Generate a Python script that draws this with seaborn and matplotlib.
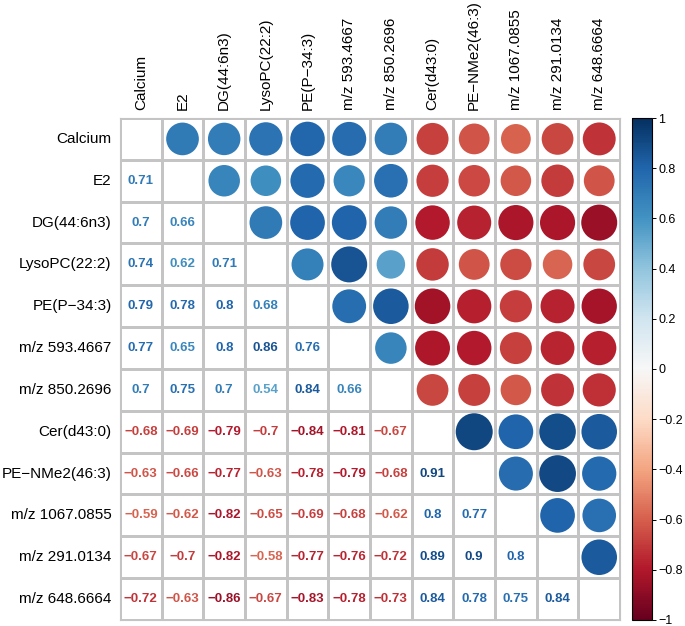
import numpy as np
import pandas as pd
import matplotlib
matplotlib.use("Agg")
import matplotlib.pyplot as plt
import seaborn as sns
from matplotlib.colors import ListedColormap, Normalize
from matplotlib.cm import ScalarMappable

# variables (row / column order)
labels = ["Calcium", "E2", "DG(44:6n3)", "LysoPC(22:2)", "PE(P\u221234:3)",
          "m/z 593.4667", "m/z 850.2696", "Cer(d43:0)", "PE\u2212NMe2(46:3)",
          "m/z 1067.0855", "m/z 291.0134", "m/z 648.6664"]

# lower triangle of the correlation matrix, row by row
row_e2 = [0.71]
row_dg = [0.7, 0.66]
row_lyso = [0.74, 0.62, 0.71]
row_pe = [0.79, 0.78, 0.8, 0.68]
row_593 = [0.77, 0.65, 0.8, 0.86, 0.76]
row_850 = [0.7, 0.75, 0.7, 0.54, 0.84, 0.66]
row_cer = [-0.68, -0.69, -0.79, -0.7, -0.84, -0.81, -0.67]
row_nme2 = [-0.63, -0.66, -0.77, -0.63, -0.78, -0.79, -0.68, 0.91]
row_1067 = [-0.59, -0.62, -0.82, -0.65, -0.69, -0.68, -0.62, 0.8, 0.77]
row_291 = [-0.67, -0.7, -0.82, -0.58, -0.77, -0.76, -0.72, 0.89, 0.9, 0.8]
row_648 = [-0.72, -0.63, -0.86, -0.67, -0.83, -0.78, -0.73, 0.84, 0.78, 0.75, 0.84]

cbar_ticks = [-1, -0.8, -0.6, -0.4, -0.2, 0, 0.2, 0.4, 0.6, 0.8, 1]

lower_rows = [[], row_e2, row_dg, row_lyso, row_pe, row_593, row_850,
              row_cer, row_nme2, row_1067, row_291, row_648]

n = len(labels)
corr = np.eye(n)
for i, vals in enumerate(lower_rows):
    for j, v in enumerate(vals):
        corr[i, j] = v
        corr[j, i] = v

cmap = plt.get_cmap("RdBu")
norm = Normalize(-1, 1)


def fmt(v):
    return f"{v:g}".replace("-", "\u2212")


plt.rcParams["font.family"] = ["Liberation Sans", "DejaVu Sans"]
fig = plt.figure(figsize=(6.85, 6.26), dpi=100)
ax = fig.add_axes([0.1752, 0.0096, 0.730, 0.8019])

# white grid of cells
sns.heatmap(np.zeros((n, n)), ax=ax, cmap=ListedColormap(["white"]), cbar=False,
            linewidths=0.8, linecolor="#c4c4c4",
            xticklabels=labels, yticklabels=labels)
for side in ["top", "bottom", "left", "right"]:
    ax.spines[side].set_visible(True)
    ax.spines[side].set_color("#c4c4c4")
    ax.spines[side].set_linewidth(0.8)

# upper triangle: circles, area proportional to |r|
ii, jj = np.triu_indices(n, k=1)
up = pd.DataFrame({"x": jj + 0.5, "y": ii + 0.5, "r": corr[ii, jj]})
up["absr"] = up["r"].abs()
sns.scatterplot(data=up, x="x", y="y", hue="r", palette="RdBu", hue_norm=(-1, 1),
                size="absr", sizes=(0, 780), size_norm=(0, 1),
                linewidth=0, legend=False, ax=ax, zorder=3)

# lower triangle: coloured numbers
li, lj = np.tril_indices(n, k=-1)
for i, j in zip(li, lj):
    v = corr[i, j]
    ax.text(j + 0.5, i + 0.5, fmt(v), ha="center", va="center",
            fontsize=9.5, fontweight="bold", color=cmap(norm(v)))

ax.set_xlim(0, n)
ax.set_ylim(n, 0)
ax.set_xlabel("")
ax.set_ylabel("")
ax.xaxis.tick_top()
ax.tick_params(length=0, pad=6)
ax.set_xticklabels(labels, rotation=90, fontsize=11)
ax.set_yticklabels(labels, rotation=0, fontsize=11)

# colour bar
cax = fig.add_axes([0.9226, 0.0096, 0.0292, 0.8019])
sm = ScalarMappable(norm=norm, cmap=cmap)
cb = fig.colorbar(sm, cax=cax, ticks=cbar_ticks)
cb.ax.set_yticklabels([fmt(t) for t in cbar_ticks])
cb.ax.tick_params(labelsize=9, length=3, width=0.7, pad=1.5)
cb.outline.set_linewidth(0.8)

fig.savefig("out.png", dpi=100)
